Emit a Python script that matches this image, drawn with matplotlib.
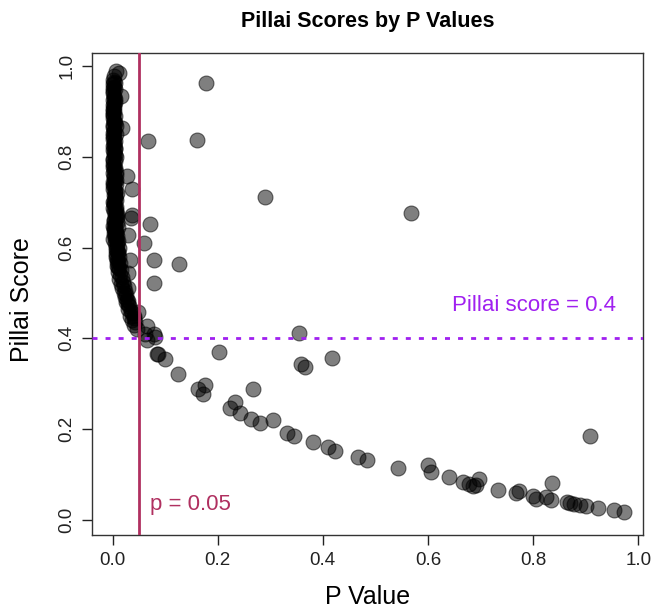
import matplotlib
matplotlib.use("Agg")
import matplotlib.pyplot as plt
import numpy as np

plt.rcParams['font.family'] = ['Liberation Sans', 'DejaVu Sans']

# dense group of very small p values (left edge of the plot)
band_p = [0.001, 0.003, 0.000, 0.002, 0.004, 0.001, 0.000, 0.003, 0.002, 0.000,
          0.004, 0.001, 0.002, 0.000, 0.003, 0.001, 0.005, 0.000, 0.002, 0.004,
          0.001, 0.000, 0.003, 0.002, 0.006, 0.001, 0.000, 0.004, 0.002, 0.001,
          0.005, 0.000, 0.003, 0.002, 0.006, 0.001, 0.004, 0.000, 0.002, 0.005,
          0.003, 0.001, 0.007, 0.002, 0.004, 0.000, 0.006, 0.003, 0.001, 0.005,
          0.008, 0.002, 0.004, 0.006, 0.001, 0.003, 0.007, 0.005, 0.002, 0.009,
          0.004, 0.006, 0.003, 0.008, 0.005, 0.010, 0.004, 0.007, 0.003, 0.009,
          0.006, 0.011, 0.005, 0.008, 0.012, 0.007, 0.010, 0.006, 0.013, 0.009,
          0.011, 0.015, 0.008, 0.012, 0.016, 0.010, 0.014, 0.018, 0.013, 0.020,
          0.016, 0.022, 0.018, 0.024, 0.021, 0.026, 0.023, 0.028, 0.025, 0.030,
          0.032, 0.029, 0.035, 0.038, 0.034, 0.040, 0.037, 0.043, 0.041, 0.046]
band_s = [0.970, 0.965, 0.960, 0.955, 0.950, 0.945, 0.940, 0.935, 0.930, 0.925,
          0.920, 0.915, 0.910, 0.905, 0.900, 0.895, 0.890, 0.885, 0.880, 0.875,
          0.870, 0.865, 0.860, 0.855, 0.850, 0.845, 0.840, 0.835, 0.830, 0.825,
          0.820, 0.815, 0.810, 0.805, 0.800, 0.795, 0.790, 0.785, 0.780, 0.775,
          0.770, 0.765, 0.760, 0.755, 0.750, 0.745, 0.740, 0.735, 0.730, 0.725,
          0.720, 0.715, 0.710, 0.705, 0.700, 0.695, 0.690, 0.685, 0.680, 0.675,
          0.670, 0.665, 0.660, 0.655, 0.650, 0.645, 0.640, 0.635, 0.630, 0.625,
          0.620, 0.615, 0.610, 0.605, 0.600, 0.595, 0.590, 0.585, 0.580, 0.575,
          0.570, 0.565, 0.560, 0.555, 0.550, 0.545, 0.540, 0.535, 0.530, 0.525,
          0.520, 0.515, 0.510, 0.505, 0.500, 0.495, 0.490, 0.485, 0.480, 0.475,
          0.470, 0.465, 0.460, 0.455, 0.450, 0.445, 0.440, 0.435, 0.430, 0.420]

band2_p = [0.002, 0.000, 0.004, 0.001, 0.003, 0.000, 0.002, 0.005, 0.001, 0.003,
           0.000, 0.004, 0.002, 0.001, 0.006, 0.003, 0.000, 0.002, 0.005, 0.001,
           0.004, 0.003, 0.000, 0.006, 0.002, 0.005, 0.001, 0.007, 0.003, 0.004,
           0.002, 0.006, 0.008, 0.005, 0.003, 0.007, 0.004, 0.009, 0.006, 0.008,
           0.005, 0.010, 0.007, 0.009, 0.011, 0.006]
band2_s = [0.978, 0.952, 0.927, 0.902, 0.877, 0.852, 0.827, 0.803, 0.778, 0.757,
           0.737, 0.718, 0.703, 0.688, 0.673, 0.658, 0.648, 0.638, 0.628, 0.618,
           0.962, 0.917, 0.892, 0.867, 0.842, 0.817, 0.792, 0.767, 0.742, 0.722,
           0.697, 0.682, 0.668, 0.652, 0.642, 0.632, 0.622, 0.612, 0.602, 0.592,
           0.712, 0.588, 0.578, 0.568, 0.558, 0.748]

# points along the curve and scattered away from it
curve_p = [0.006, 0.012, 0.017, 0.019, 0.028, 0.038, 0.038, 0.036, 0.030, 0.033,
           0.030, 0.030, 0.030, 0.049, 0.040, 0.065, 0.062, 0.081, 0.065, 0.086,
           0.100, 0.078, 0.084, 0.125, 0.163, 0.176, 0.172, 0.223, 0.233, 0.242,
           0.264, 0.280, 0.305, 0.331, 0.345, 0.381, 0.410, 0.423, 0.467, 0.484,
           0.543, 0.600, 0.606, 0.640, 0.666, 0.679, 0.692, 0.697, 0.733, 0.768,
           0.773, 0.799, 0.825, 0.834, 0.864, 0.878, 0.889, 0.901, 0.923, 0.954,
           0.973, 0.685, 0.805, 0.871]
curve_s = [0.990, 0.985, 0.935, 0.864, 0.758, 0.728, 0.672, 0.665, 0.627, 0.572,
           0.543, 0.511, 0.482, 0.457, 0.449, 0.426, 0.409, 0.402, 0.395, 0.366,
           0.355, 0.409, 0.366, 0.321, 0.288, 0.297, 0.278, 0.246, 0.259, 0.234,
           0.221, 0.214, 0.219, 0.192, 0.185, 0.170, 0.159, 0.152, 0.139, 0.132,
           0.114, 0.120, 0.105, 0.094, 0.082, 0.078, 0.076, 0.089, 0.065, 0.058,
           0.062, 0.051, 0.049, 0.043, 0.038, 0.034, 0.033, 0.030, 0.025, 0.022,
           0.016, 0.074, 0.046, 0.036]

outlier_p = [0.178, 0.160, 0.067, 0.290, 0.567, 0.071, 0.059, 0.079, 0.126, 0.078,
             0.203, 0.267, 0.355, 0.359, 0.366, 0.418, 0.836, 0.909]
outlier_s = [0.963, 0.837, 0.835, 0.711, 0.676, 0.651, 0.610, 0.572, 0.564, 0.522,
             0.370, 0.288, 0.411, 0.343, 0.337, 0.357, 0.080, 0.185]

p_vals = np.array(band_p + band2_p + curve_p + outlier_p)
pillai = np.array(band_s + band2_s + curve_s + outlier_s)

fig = plt.figure(figsize=(6.55, 6.11), dpi=100)
ax = fig.add_axes([92 / 655, 1 - 535 / 611, 551 / 655, 482 / 611])

ax.scatter(p_vals, pillai, s=115, c=[(0, 0, 0, 0.5)],
           edgecolors=[(0, 0, 0, 0.55)], linewidths=0.8, zorder=2)

ax.axvline(0.05, color='#B03060', lw=2, zorder=3)
ax.axhline(0.4, color='#A020F0', lw=2, linestyle=(0, (1.8, 2.9)), zorder=3)
ax.text(0.071, 0.033, 'p = 0.05', color='#B03060', fontsize=16,
        ha='left', va='center')
ax.text(0.958, 0.472, 'Pillai score = 0.4', color='#A020F0', fontsize=16,
        ha='right', va='center')

ax.set_xlim(-0.039, 1.009)
ax.set_ylim(-0.034, 1.029)
ticks = [0.0, 0.2, 0.4, 0.6, 0.8, 1.0]
ax.set_xticks(ticks)
ax.set_yticks(ticks)
ax.set_xticklabels(['%.1f' % t for t in ticks])
ax.set_yticklabels(['%.1f' % t for t in ticks], rotation=90, va='center')
ax.tick_params(direction='out', length=7, width=1, labelsize=13.5, pad=5,
               colors='#222222')
for sp in ax.spines.values():
    sp.set_linewidth(1)
    sp.set_color('#333333')

cx = (92 + 643) / 2 / 655
fig.text(cx, 1 - 22 / 611, 'Pillai Scores by P Values', fontsize=15.5,
         fontweight='bold', ha='center', va='center')
fig.text(cx, 1 - 597 / 611, 'P Value', fontsize=18, ha='center', va='center')
fig.text(22 / 655, 1 - 300 / 611, 'Pillai Score', fontsize=18, rotation=90,
         ha='center', va='center')

fig.savefig('out.png', dpi=100)
